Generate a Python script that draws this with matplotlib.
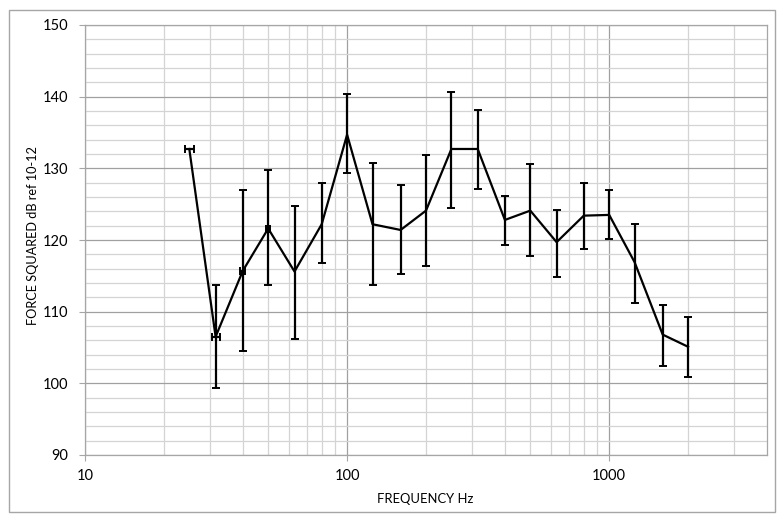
import matplotlib
matplotlib.use('Agg')
import matplotlib.pyplot as plt
from matplotlib.patches import Rectangle
from matplotlib.ticker import FixedLocator, NullFormatter

plt.rcParams['font.family'] = ['Lato', 'DejaVu Sans']

# 1/3 octave band centre frequencies, Hz
freq = [25, 31.5, 40, 50, 63, 80, 100, 125, 160, 200, 250, 315,
        400, 500, 630, 800, 1000, 1250, 1600, 2000]
# force squared level, dB ref 10-12
level = [132.7, 106.5, 115.7, 121.6, 115.6, 122.2, 134.7, 122.2, 121.4, 124.1,
         132.7, 132.7, 122.8, 124.1, 119.7, 123.4, 123.5, 116.9, 106.8, 105.1]
# upper and lower ends of the error bars
upper = [132.7, 113.7, 127.0, 129.8, 124.7, 128.0, 140.4, 130.8, 127.7, 131.9,
         140.6, 138.2, 126.2, 130.6, 124.2, 128.0, 127.0, 122.3, 111.0, 109.3]
lower = [132.7, 99.3, 104.5, 113.7, 106.2, 116.8, 129.3, 113.7, 115.2, 116.4,
         124.5, 127.1, 119.3, 117.7, 114.9, 118.8, 120.1, 111.2, 102.4, 100.9]
# small horizontal error on the lowest bands, Hz
xerr = [1.0, 1.1, 0.9, 0.9, 0, 0, 0, 0, 0, 0,
        0, 0, 0, 0, 0, 0, 0, 0, 0, 0]

yerr = [[v - lo for v, lo in zip(level, lower)],
        [hi - v for v, hi in zip(level, upper)]]

fig = plt.figure(figsize=(7.82, 5.16), dpi=100)
fig.patches.append(Rectangle((9 / 782, 1 - 512 / 516), 766 / 782, 502 / 516,
                             transform=fig.transFigure, fill=False,
                             edgecolor='#a6a6a6', linewidth=1.0))
ax = fig.add_axes([85 / 782, 61 / 516, 682 / 782, 430 / 516])

ax.errorbar(freq, level, yerr=yerr, xerr=xerr, color='black', linewidth=1.6,
            elinewidth=1.6, capsize=3, capthick=1.4, zorder=3)

ax.set_xscale('log')
ax.set_xlim(10, 4000)
ax.set_ylim(90, 150)

ax.xaxis.set_major_locator(FixedLocator([10, 100, 1000]))
ax.xaxis.set_minor_locator(FixedLocator(
    [m * d for d in (10, 100, 1000) for m in range(2, 10) if m * d < 4000]))
ax.xaxis.set_minor_formatter(NullFormatter())
ax.set_xticklabels(['10', '100', '1000'])
ax.set_yticks(range(90, 151, 10))
ax.set_yticks(range(90, 151, 2), minor=True)

ax.grid(True, which='major', color='#a0a0a0', linewidth=0.9)
ax.grid(True, which='minor', color='#d4d4d4', linewidth=0.9)
ax.set_axisbelow(True)

for s in ax.spines.values():
    s.set_color('#a6a6a6')
    s.set_linewidth(0.9)

ax.tick_params(which='major', length=4, color='#a6a6a6', labelsize=10.5)
ax.tick_params(axis='y', which='major', pad=8)
ax.tick_params(axis='x', which='major', pad=6)
ax.tick_params(which='minor', length=0)

fig.text(425 / 782, 1 - 499 / 516, 'FREQUENCY Hz', fontsize=9.4,
         ha='center', va='center')
fig.text(33 / 782, 1 - 236 / 516, 'FORCE SQUARED dB ref 10-12', fontsize=9.2,
         rotation=90, ha='center', va='center')

fig.savefig('out.png', dpi=100)
